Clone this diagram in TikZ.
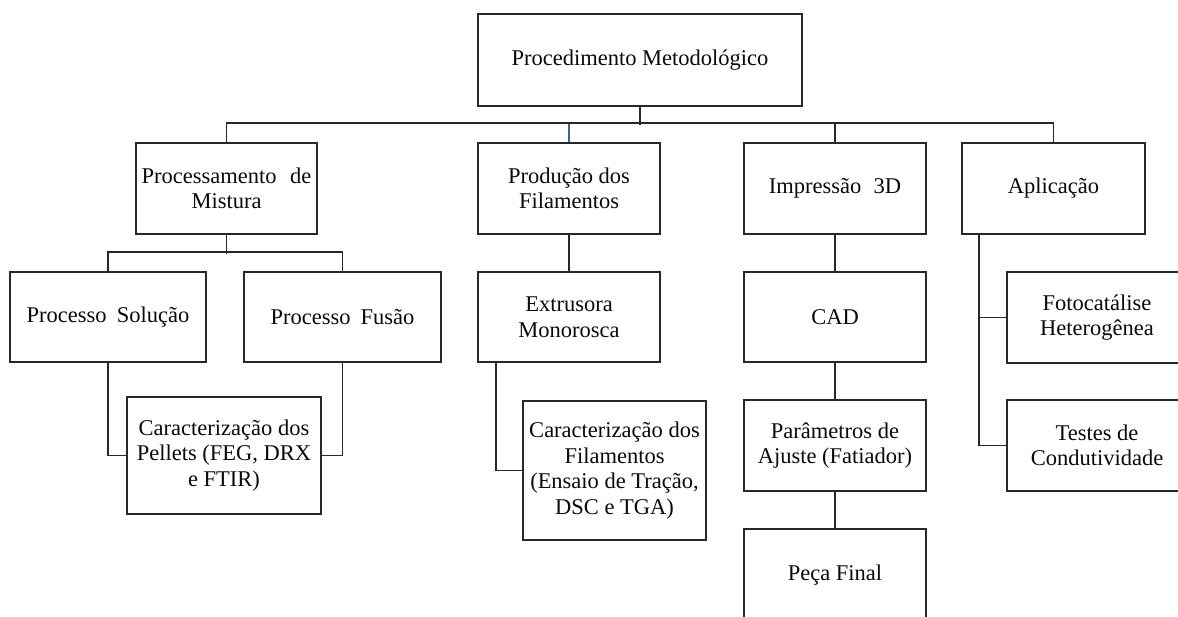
\documentclass[tikz,border=0pt]{standalone}
\usepackage{fontspec}
\setmainfont{Liberation Serif}
\definecolor{ln}{RGB}{40,40,40}
\definecolor{tx}{RGB}{10,10,10}
\definecolor{bl}{RGB}{60,95,170}
\begin{document}
\begin{tikzpicture}[x=1pt,y=-1pt,
  box/.style={draw=ln,line width=1.6pt,inner sep=0pt,align=center,text=tx,
    font=\fontsize{22.5}{25.5}\selectfont},
  conn/.style={draw=ln,line width=1.6pt}]
\useasboundingbox (0,0) rectangle (1178,616);
\fill[white] (0,0) rectangle (1178,616);
\clip (0,0) rectangle (1178,616);
% level 0
\node[box,minimum width=324pt,minimum height=92pt] (top) at (640,60) {Procedimento Metodológico};
% level 1
\node[box,minimum width=181pt,minimum height=91pt] (proc) at (226.5,188.5) {Processamento\hspace{0.35em} de\\Mistura};
\node[box,minimum width=182pt,minimum height=91pt] (prod) at (569,188.5) {Produção dos\\Filamentos};
\node[box,minimum width=182pt,minimum height=91pt] (imp) at (835,188.5) {Impressão\hspace{0.3em} 3D};
\node[box,minimum width=183pt,minimum height=91pt] (apl) at (1053.5,188.5) {Aplicação};
% level 2
\node[box,minimum width=196pt,minimum height=90pt] (sol) at (108,317) {Processo\hspace{0.2em} Solução};
\node[box,minimum width=197pt,minimum height=90pt] (fus) at (342.5,317) {Processo\hspace{0.2em} Fusão};
\node[box,minimum width=182pt,minimum height=90pt] (ext) at (569,317) {Extrusora\\Monorosca};
\node[box,minimum width=182pt,minimum height=90pt] (cad) at (835,317) {CAD};
\node[box,minimum width=180pt,minimum height=91pt] (foto) at (1097,317.5) {Fotocatálise\\Heterogênea};
% level 3
\node[box,minimum width=194pt,minimum height=117pt] (pel) at (224,455.5) {Caracterização dos\\Pellets (FEG, DRX\\e FTIR)};
\node[box,minimum width=183pt,minimum height=139pt] (fil) at (614.5,470.5) {Caracterização dos\\Filamentos\\(Ensaio de Tração,\\DSC e TGA)};
\node[box,minimum width=182pt,minimum height=91pt] (par) at (835,445.5) {Parâmetros de\\Ajuste (Fatiador)};
\node[box,minimum width=180pt,minimum height=91pt] (test) at (1097,445.5) {Testes de\\Condutividade};
\node[box,minimum width=182pt,minimum height=92pt] (peca) at (835,575) {Peça Final};
% connectors
\draw[conn] (top.south) -- ++(0,18);
\draw[conn] (proc.north) -- ++(0,-19) -| (apl.north);
\draw[conn] (imp.north) -- ++(0,-19);
\draw[draw=bl,line width=1.3pt] (prod.north) -- ++(0,-18.4);
\draw[conn] (proc.south) -- ++(0,19);
\draw[conn] (sol.north) -- ++(0,-19) -| (fus.north);
\draw[conn] (sol.south) |- (pel.west);
\draw[conn] (fus.south) |- (pel.east);
\draw[conn] (prod.south) -- (ext.north);
\draw[conn] ([xshift=19pt]ext.south west) |- (fil.west);
\draw[conn] (imp.south) -- (cad.north);
\draw[conn] (cad.south) -- (par.north);
\draw[conn] (par.south) -- (peca.north);
\draw[conn] ([xshift=18pt]apl.south west) |- (test.west);
\draw[conn] ([xshift=18pt]apl.south west |- foto.west) -- (foto.west);
\end{tikzpicture}
\end{document}
